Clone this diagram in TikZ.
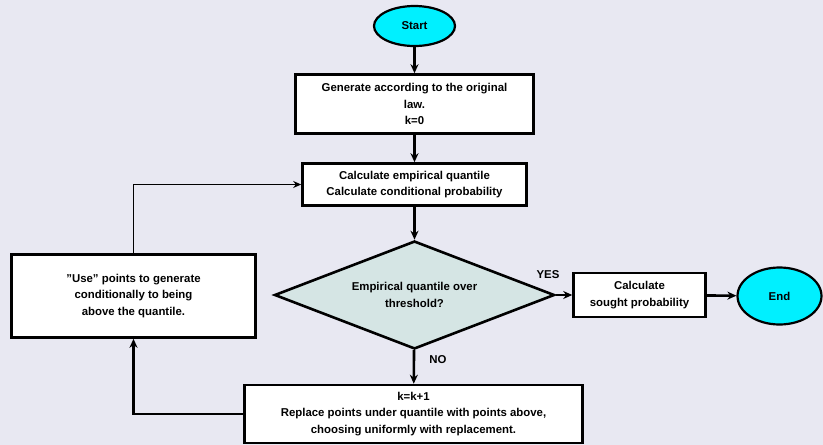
\documentclass[tikz,border=0pt]{standalone}
\usepackage{fontspec}
\setmainfont{Liberation Sans}
\usetikzlibrary{shapes.geometric,arrows.meta}
\definecolor{bgcol}{RGB}{232,232,242}
\definecolor{termcol}{RGB}{0,240,255}
\definecolor{diacol}{RGB}{213,229,228}
\begin{document}
\begin{tikzpicture}[x=1pt,y=-1pt,
  every node/.style={font=\fontsize{11.4}{16.5}\selectfont\bfseries, align=center, inner sep=0pt},
  term/.style={ellipse, draw, line width=2.2pt, fill=termcol},
  proc/.style={rectangle, draw, line width=2.6pt, fill=white},
  decis/.style={diamond, draw, line width=2.6pt, fill=diacol, aspect=2.56},
  conn/.style={line width=2.6pt, -{Stealth[length=9pt,width=8pt]}},
  thinconn/.style={line width=1.5pt, -{Stealth[length=8pt,width=7pt]}},
  lbl/.style={font=\fontsize{11.4}{13}\selectfont\bfseries}
]
\fill[bgcol] (0,0) rectangle (823,445);
\useasboundingbox (0,0) rectangle (823,445);

\node[term, minimum width=81pt, minimum height=40pt] (start) at (414.5,26) {Start};
\node[proc, minimum width=238pt, minimum height=59pt] (gen) at (414.5,104) {Generate according to the original\\law.\\k=0};
\node[proc, minimum width=224pt, minimum height=42pt] (calc) at (414.5,184.5) {Calculate empirical quantile\\Calculate conditional probability};
\node[decis, minimum width=280pt, minimum height=108pt] (dia) at (414.5,295) {Empirical quantile over\\threshold?};
\node[proc, minimum width=244pt, minimum height=83pt] (use) at (133.5,296) {\symbol{34}Use\symbol{34} points to generate\\conditionally to being\\above the quantile.};
\node[proc, minimum width=338pt, minimum height=58pt] (kbox) at (413.5,414) {k=k+1\\Replace points under quantile with points above,\\choosing uniformly with replacement.};
\node[proc, minimum width=132pt, minimum height=44pt] (sought) at (639.5,295) {Calculate\\sought probability};
\node[term, minimum width=84pt, minimum height=57pt] (end) at (779.5,296) {End};

\node[lbl] (yes) at (548,275) {YES};
\node[lbl] (no) at (438,360) {NO};

\draw[conn] (start) -- (gen);
\draw[conn] (gen) -- (calc);
\draw[conn] (calc) -- (dia);
\draw[conn] (dia) -- (kbox);
\draw[conn] (dia) -- (sought);
\draw[conn] (sought) -- (end);
\draw[conn] (kbox.west) -| (use.south);
\draw[thinconn] (use.north) |- (calc.west);
\end{tikzpicture}
\end{document}
